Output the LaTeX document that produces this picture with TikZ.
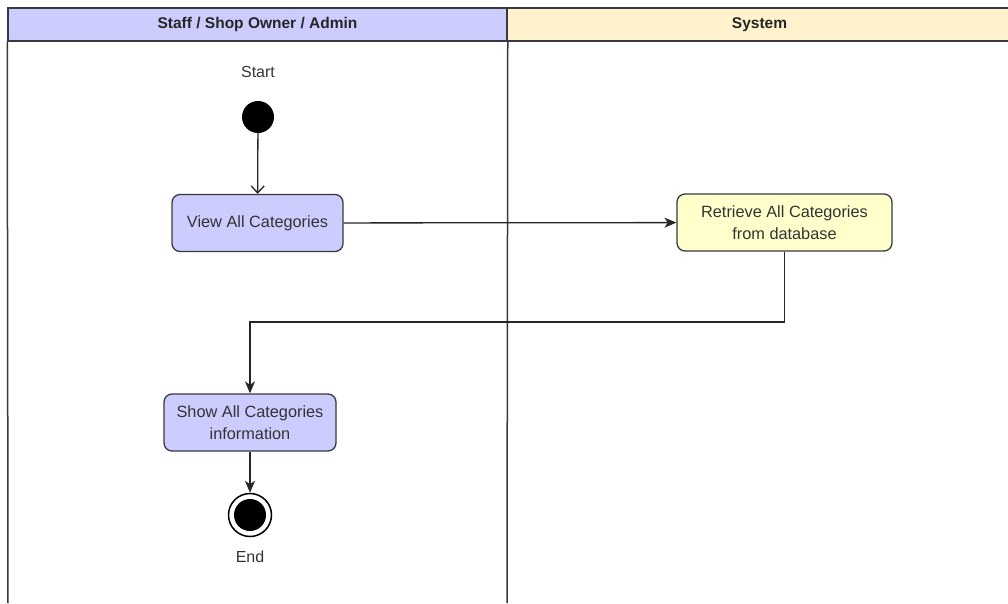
\documentclass[tikz,border=0pt]{standalone}
\usepackage{fontspec}
\setmainfont{Liberation Sans}
\usetikzlibrary{arrows.meta}

\definecolor{lavande}{HTML}{CCCCFF}
\definecolor{jaune}{HTML}{FFF2CC}
\definecolor{jauneclair}{HTML}{FFFFCC}
\definecolor{trait}{HTML}{36393D}
\definecolor{texte}{HTML}{333333}

\begin{document}
\begin{tikzpicture}[x=1pt, y=-1pt,
		lane/.style={draw=trait, line width=1.5pt, minimum height=33pt, inner sep=0pt,
			font=\fontsize{15.5}{18}\selectfont\bfseries, text=black!85},
		action/.style={draw=trait, line width=1.3pt, rounded corners=8pt, inner sep=0pt,
			minimum height=57pt, align=center, text=texte,
			font=\fontsize{16.3}{21.5}\selectfont},
		label/.style={text=texte, font=\fontsize{16}{18}\selectfont},
		fleche/.style={draw=black!85, line width=1.3pt,
			-{Stealth[length=12pt, width=10pt, inset=3.5pt]}},
		ouverte/.style={draw=black!85, line width=1.3pt,
			-{Straight Barb[length=7pt, width=13pt, line width=1.3pt]}}]
		\useasboundingbox (0,0) rectangle (1008,603);
		%Couloirs
		\node[lane, fill=lavande, minimum width=499pt] (Acteur) at (257.5,24.5) {Staff / Shop Owner / Admin};
		\node[lane, fill=jaune, minimum width=505pt] (Systeme) at (759.5,24.5) {System};
		\draw[trait, line width=1.5pt] (Acteur.south west) -- (8,603);
		\draw[trait, line width=1.5pt] (Acteur.south east) -- (507,603);
		
		%Noeuds de l'activite
		\node[label] (Debut) at (258,72) {Start};
		\node[circle, fill=black, minimum size=32pt, inner sep=0pt] (Init) at (258,117) {};
		\node[action, fill=lavande, minimum width=171pt] (Voir) at (257.5,223) {View All Categories};
		\node[action, fill=jauneclair, minimum width=215pt] (Recup) at (784.5,222.5) {Retrieve All Categories\\from database};
		\node[action, fill=lavande, minimum width=172pt] (Affiche) at (250,422.5) {Show All Categories\\information};
		\node[circle, draw=black, line width=1.5pt, fill=white, minimum size=43pt, inner sep=0pt,
			path picture={\fill[black] (path picture bounding box.center) circle (16pt);}] (Final) at (250,515) {};
		\node[label] (Fin) at (250,557) {End};
		\coordinate (Coude) at (784.5,322);
		
		%Transitions
		\draw[ouverte] (Init) -- (Voir);
		\draw[fleche] (Voir) -- (Recup);
		\draw[fleche] (Recup) -- (Coude) -| (Affiche);
		\draw[fleche] (Affiche) -- (Final);
	\end{tikzpicture}
\end{document}
